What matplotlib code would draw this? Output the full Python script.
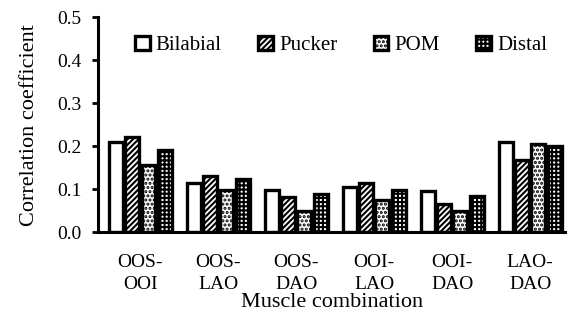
import numpy as np
import matplotlib.pyplot as plt

plt.rcParams['font.family'] = ['Liberation Serif', 'DejaVu Serif']

groups = ['OOS-\nOOI', 'OOS-\nLAO', 'OOS-\nDAO', 'OOI-\nLAO', 'OOI-\nDAO', 'LAO-\nDAO']
bilabial = [0.21, 0.114, 0.098, 0.105, 0.095, 0.21]
pucker = [0.222, 0.13, 0.082, 0.115, 0.065, 0.168]
pom = [0.155, 0.097, 0.05, 0.075, 0.05, 0.205]
distal = [0.19, 0.123, 0.088, 0.098, 0.085, 0.2]
series = ['Bilabial', 'Pucker', 'POM', 'Distal']
hatches = ['', '//////', '....', '++++']

plt.rcParams['hatch.linewidth'] = 1.5

fig, ax = plt.subplots(figsize=(5.71, 3.27), dpi=100)
fig.subplots_adjust(left=0.172, right=0.99, top=0.948, bottom=0.29)

x = np.arange(len(groups))
w = 0.21
for i, (name, vals) in enumerate(zip(series, [bilabial, pucker, pom, distal])):
    ax.bar(x + (i - 1.5) * w, vals, w * 0.85, color='white', edgecolor='black',
           linewidth=2.4, hatch=hatches[i], label=name)

ax.set_ylim(0, 0.5)
ax.set_xlim(-0.54, 5.45)
ax.set_yticks(np.arange(0, 0.51, 0.1))
ax.set_yticklabels(['%.1f' % v for v in np.arange(0, 0.51, 0.1)], fontsize=14)
ax.set_xticks(x)
ax.set_xticklabels(groups, fontsize=14, linespacing=1.35)
ax.tick_params(axis='x', length=0, pad=16)
ax.tick_params(axis='y', width=2, length=4, pad=8)
for s in ['top', 'right']:
    ax.spines[s].set_visible(False)
for s in ['left', 'bottom']:
    ax.spines[s].set_linewidth(2.2)
ax.set_ylabel('Correlation coefficient', fontsize=16, labelpad=13)
ax.set_xlabel('Muscle combination', fontsize=16, labelpad=0)
ax.legend(loc='upper center', bbox_to_anchor=(0.52, 1.0), ncol=4, frameon=False,
          fontsize=15, handlelength=0.7, handleheight=0.7, handletextpad=0.3,
          columnspacing=1.75)

plt.savefig('out.png', dpi=100)
